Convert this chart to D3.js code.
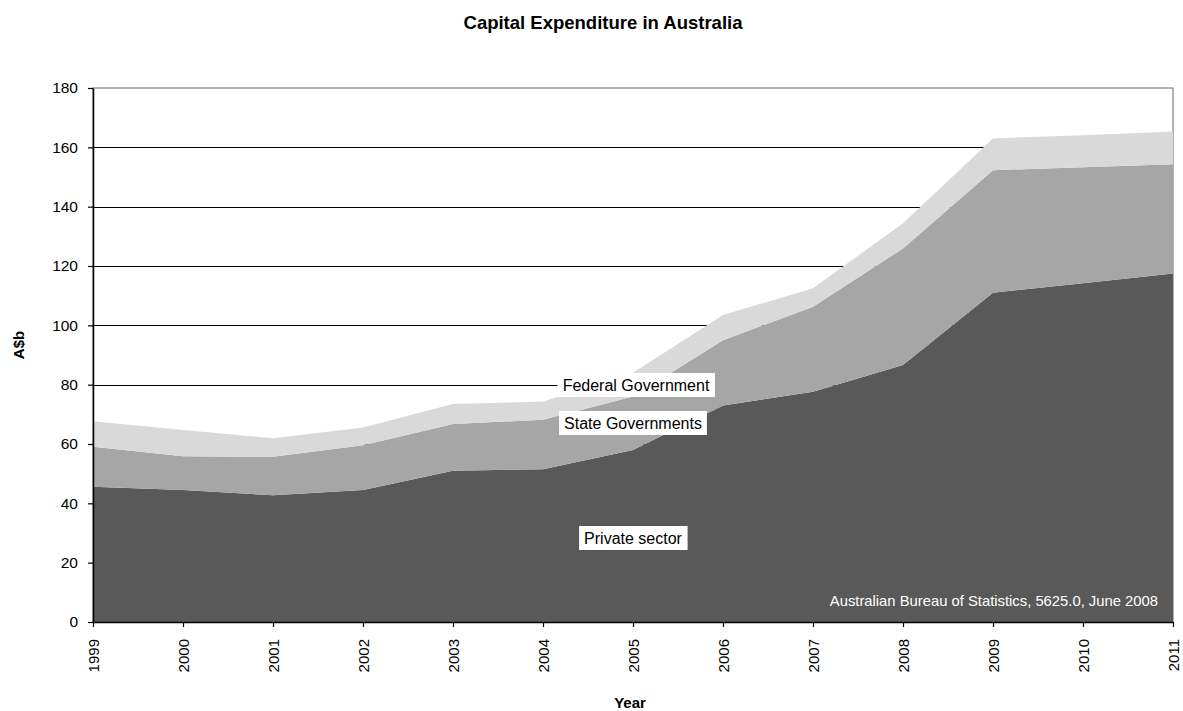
<!DOCTYPE html>
<html>
<head>
<meta charset="utf-8">
<script src="https://cdn.jsdelivr.net/npm/d3@7"></script>
<style>
  html, body { margin: 0; padding: 0; background: #ffffff; }
  svg { display: block; font-family: "Liberation Sans", Arial, sans-serif; }
</style>
</head>
<body>
<svg id="chart" width="1183" height="711"></svg>
<script>
// Capital expenditure, A$ billions, stacked by sector
const years = [1999, 2000, 2001, 2002, 2003, 2004, 2005, 2006, 2007, 2008, 2009, 2010, 2011];
const privateSector = [45.6, 44.5, 42.7, 44.5, 51.0, 51.5, 58.0, 73.0, 77.6, 86.6, 111.0, 114.2, 117.5];
const stateGovernments = [13.5, 11.4, 13.0, 15.1, 15.7, 16.7, 18.0, 22.0, 28.7, 39.3, 41.3, 39.1, 36.8];
const federalGovernment = [8.6, 8.8, 6.2, 6.0, 6.8, 6.1, 8.0, 8.5, 6.2, 8.5, 10.7, 10.8, 11.0];
const yTicks = [0, 20, 40, 60, 80, 100, 120, 140, 160, 180];

const seriesNames = ["Private sector", "State Governments", "Federal Government"];
const seriesColors = ["#595959", "#a6a6a6", "#d9d9d9"];

const rows = years.map((yr, i) => ({
  year: yr,
  "Private sector": privateSector[i],
  "State Governments": stateGovernments[i],
  "Federal Government": federalGovernment[i]
}));

const svg = d3.select("#chart");
const plotLeft = 93, plotRight = 1173, plotTop = 88, plotBottom = 622;

const x = d3.scaleLinear().domain([1999, 2011]).range([plotLeft, plotRight]);
const y = d3.scaleLinear().domain([0, 180]).range([plotBottom, plotTop]);

// Plot-area frame (grey) and horizontal gridlines, behind the areas
svg.append("rect")
  .attr("x", plotLeft).attr("y", plotTop)
  .attr("width", plotRight - plotLeft).attr("height", plotBottom - plotTop)
  .attr("fill", "none").attr("stroke", "#808080").attr("stroke-width", 1.2);

svg.append("g")
  .selectAll("line")
  .data(yTicks.filter(t => t > 0 && t < 180))
  .join("line")
  .attr("x1", plotLeft).attr("x2", plotRight)
  .attr("y1", d => Math.round(y(d)) + 0.5).attr("y2", d => Math.round(y(d)) + 0.5)
  .attr("stroke", "#000").attr("stroke-width", 1.2);

// Stacked areas
const stack = d3.stack().keys(seriesNames);
const layers = stack(rows);
const area = d3.area()
  .x(d => x(d.data.year))
  .y0(d => y(d[0]))
  .y1(d => y(d[1]));

svg.append("g")
  .selectAll("path")
  .data(layers)
  .join("path")
  .attr("d", area)
  .attr("fill", (d, i) => seriesColors[i]);

// Y axis
const yAxis = d3.axisLeft(y).tickValues(yTicks).tickSize(5).tickPadding(10).tickSizeOuter(0);
const gy = svg.append("g").attr("transform", `translate(${plotLeft},0)`).call(yAxis);
gy.select(".domain").attr("stroke", "#000").attr("stroke-width", 1.5);
gy.selectAll(".tick line").attr("stroke", "#000").attr("stroke-width", 1.2);
gy.selectAll(".tick text")
  .attr("font-size", 15.5)
  .attr("font-family", "Liberation Sans, Arial, sans-serif")
  .attr("fill", "#000");

// X axis with vertical year labels
const xAxis = d3.axisBottom(x).tickValues(years).tickFormat(d3.format("d")).tickSize(5).tickSizeOuter(0);
const gx = svg.append("g").attr("transform", `translate(0,${plotBottom})`).call(xAxis);
gx.select(".domain").attr("stroke", "#000").attr("stroke-width", 1.5);
gx.selectAll(".tick line").attr("stroke", "#000").attr("stroke-width", 1.2);
gx.selectAll(".tick text")
  .attr("font-size", 15)
  .attr("font-family", "Liberation Sans, Arial, sans-serif")
  .attr("fill", "#000")
  .attr("text-anchor", "end")
  .attr("transform", "translate(0,17) rotate(-90)")
  .attr("x", 0)
  .attr("y", 0)
  .attr("dy", "0.35em");

// Titles
svg.append("text")
  .attr("x", 603).attr("y", 29)
  .attr("text-anchor", "middle")
  .attr("font-size", 18.5).attr("font-weight", "bold")
  .text("Capital Expenditure in Australia");

svg.append("text")
  .attr("transform", "translate(24,345) rotate(-90)")
  .attr("text-anchor", "middle")
  .attr("font-size", 15).attr("font-weight", "bold")
  .text("A$b");

svg.append("text")
  .attr("x", 630).attr("y", 708)
  .attr("text-anchor", "middle")
  .attr("font-size", 15).attr("font-weight", "bold")
  .text("Year");

// Series labels on white boxes
const seriesLabels = [
  { text: "Federal Government", cx: 636, cy: 385 },
  { text: "State Governments", cx: 633, cy: 423 },
  { text: "Private sector", cx: 633, cy: 538 }
];
const lg = svg.append("g");
seriesLabels.forEach(l => {
  const t = lg.append("text")
    .attr("x", l.cx).attr("y", l.cy)
    .attr("text-anchor", "middle")
    .attr("dy", "0.35em")
    .attr("font-size", 16)
    .attr("fill", "#000")
    .text(l.text);
  const bb = t.node().getBBox();
  lg.insert("rect", "text")
    .attr("x", bb.x - 5).attr("y", l.cy - 12)
    .attr("width", bb.width + 10).attr("height", 24)
    .attr("fill", "#fff");
});

// Source note
svg.append("text")
  .attr("x", 1158).attr("y", 606)
  .attr("text-anchor", "end")
  .attr("font-size", 14.8)
  .attr("fill", "#fff")
  .text("Australian Bureau of Statistics, 5625.0, June 2008");
</script>
</body>
</html>
